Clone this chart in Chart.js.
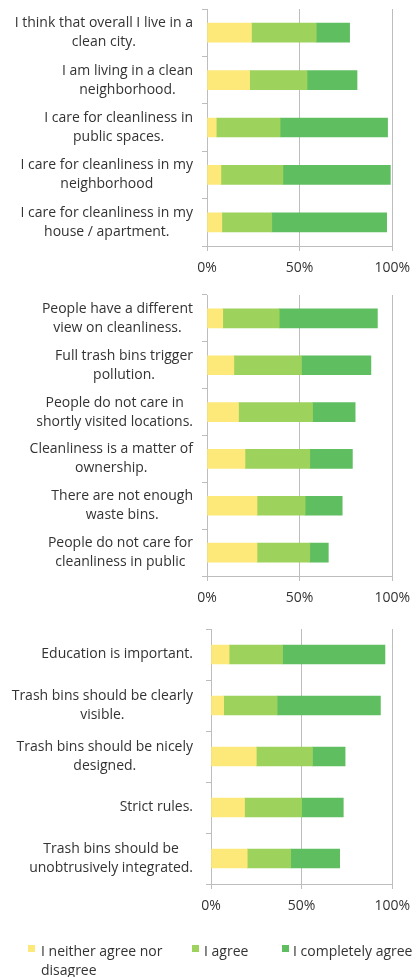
<!DOCTYPE html>
<html>
<head>
<meta charset="utf-8">
<script src="https://cdn.jsdelivr.net/npm/chart.js@4/dist/chart.umd.min.js"></script>
<style>
  html, body { margin: 0; padding: 0; background: #fff; }
  body { width: 419px; height: 977px; position: relative; overflow: hidden; font-family: "Open Sans", Lato, sans-serif; }
  .box { position: absolute; left: 0; width: 419px; }
  #legend { position: absolute; top: 941px; left: 0; width: 419px; height: 36px; font-size: 14px; color: #333; }
  .item { position: absolute; top: 0; line-height: 19px; white-space: normal; }
  .sw { position: absolute; top: 4px; width: 7px; height: 7px; }
</style>
</head>
<body>
<div class="box" id="b1" style="top:0;height:290px"><canvas id="c1"></canvas></div>
<div class="box" id="b2" style="top:285px;height:330px"><canvas id="c2"></canvas></div>
<div class="box" id="b3" style="top:615px;height:305px"><canvas id="c3"></canvas></div>
<div id="legend"></div>
<script>
// ---- data ----
const seriesNames = ["I neither agree nor disagree", "I agree", "I completely agree"];
const seriesColors = ["#FCE97A", "#9DD25C", "#5FBE60"];
const tickLabels = ["0%", "50%", "100%"];

const cats1 = [
  ["I think that overall I live in a", "clean city."],
  ["I am living in a clean", "neighborhood."],
  ["I care for cleanliness in", "public spaces."],
  ["I care for cleanliness in my", "neighborhood"],
  ["I care for cleanliness in my", "house / apartment."]
];
const neutral1  = [24, 23, 5, 7.5, 8];
const agree1    = [35, 31, 34.5, 33.5, 27];
const complete1 = [18, 27, 58, 58, 62];

const cats2 = [
  ["People have a different", "view on cleanliness."],
  ["Full trash bins trigger", "pollution."],
  ["People do not care in", "shortly visited locations."],
  ["Cleanliness is a matter of", "ownership."],
  ["There are not enough", "waste bins."],
  ["People do not care for", "cleanliness in public"]
];
const neutral2  = [8.5, 14.5, 17, 20.5, 27, 27];
const agree2    = [30.5, 36.5, 40, 35, 26, 28.5];
const complete2 = [53, 37.5, 23, 23, 20, 10];

const cats3 = [
  ["Education is important."],
  ["Trash bins should be clearly", "visible."],
  ["Trash bins should be nicely", "designed."],
  ["Strict rules."],
  ["Trash bins should be", "unobtrusively integrated."]
];
const neutral3  = [10, 7, 25, 18.5, 20];
const agree3    = [29.5, 29.5, 31, 31.5, 24];
const complete3 = [56.5, 57, 18, 23, 27];

// ---- rendering ----
const FONT = '"Open Sans", Lato, sans-serif';
const TEXT = '#333333';
const GRID = '#BDBDBD';
const FS = 14;

const blockLabels = {
  id: 'blockLabels',
  afterDraw(chart, args, opts) {
    const ctx = chart.ctx;
    const ys = chart.scales.y;
    ctx.save();
    ctx.font = opts.size + 'px ' + FONT;
    ctx.fillStyle = TEXT;
    ctx.textAlign = 'center';
    ctx.textBaseline = 'middle';
    const right = chart.chartArea.left - opts.gap;
    chart.data.labels.forEach((lab, i) => {
      const lines = Array.isArray(lab) ? lab : [lab];
      const w = Math.max(...lines.map(l => ctx.measureText(l).width));
      const cx = right - w / 2;
      const cy = ys.getPixelForValue(i);
      lines.forEach((l, k) => {
        ctx.fillText(l, cx, cy + (k - (lines.length - 1) / 2) * opts.lh);
      });
    });
    ctx.restore();
  }
};

function makeChart(id, cats, n, a, c, cfg) {
  new Chart(document.getElementById(id), {
    type: 'bar',
    data: {
      labels: cats,
      datasets: [
        { label: seriesNames[0], data: n, backgroundColor: seriesColors[0] },
        { label: seriesNames[1], data: a, backgroundColor: seriesColors[1] },
        { label: seriesNames[2], data: c, backgroundColor: seriesColors[2] }
      ]
    },
    options: {
      indexAxis: 'y',
      responsive: true,
      maintainAspectRatio: false,
      animation: false,
      layout: { padding: { top: cfg.top, right: cfg.right, left: 0, bottom: 0 } },
      datasets: { bar: { barThickness: 19, borderWidth: 0 } },
      plugins: {
        legend: { display: false },
        tooltip: { enabled: false },
        blockLabels: { size: FS, lh: 19, gap: cfg.gap }
      },
      scales: {
        x: {
          stacked: true, min: 0, max: 100,
          afterFit: s => { s.height = cfg.xh; },
          afterBuildTicks: s => { s.ticks = [0, 50, 100].map(v => ({ value: v })); },
          ticks: {
            callback: (v, i) => tickLabels[i],
            color: TEXT, font: { family: FONT, size: FS }, padding: 9, maxRotation: 0
          },
          grid: { color: GRID, tickLength: 5, lineWidth: 1 },
          border: { display: true, color: GRID }
        },
        y: {
          stacked: true,
          afterFit: s => { s.width = cfg.left; },
          ticks: { display: false },
          grid: { drawOnChartArea: false, color: GRID, tickLength: 5, offset: true },
          border: { display: true, color: GRID }
        }
      }
    },
    plugins: [blockLabels]
  });
}

makeChart('c1', cats1, neutral1, agree1, complete1, { top: 9, right: 24, left: 207, xh: 44, gap: 14 });
makeChart('c2', cats2, neutral2, agree2, complete2, { top: 10, right: 20, left: 207, xh: 39, gap: 14 });
makeChart('c3', cats3, neutral3, agree3, complete3, { top: 14, right: 20, left: 211, xh: 36, gap: 18 });

// legend
const lg = document.getElementById('legend');
const pos = [{ sq: 28, tx: 41, w: 140 }, { sq: 192, tx: 204, w: 80 }, { sq: 282, tx: 293, w: 130 }];
seriesNames.forEach((name, i) => {
  const sw = document.createElement('div');
  sw.className = 'sw';
  sw.style.left = pos[i].sq + 'px';
  sw.style.background = seriesColors[i];
  lg.appendChild(sw);
  const it = document.createElement('div');
  it.className = 'item';
  it.style.left = pos[i].tx + 'px';
  it.style.width = pos[i].w + 'px';
  it.textContent = name;
  lg.appendChild(it);
});
</script>
</body>
</html>
